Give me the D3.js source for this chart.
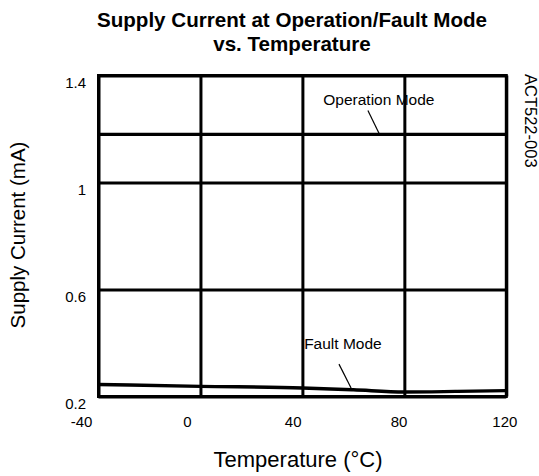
<!DOCTYPE html>
<html>
<head>
<meta charset="utf-8">
<script src="https://cdn.jsdelivr.net/npm/d3@7"></script>
<style>
  html, body { margin: 0; padding: 0; background: #fff; }
  svg { display: block; font-family: "Liberation Sans", Arial, sans-serif; }
</style>
</head>
<body>
<svg id="chart" width="539" height="476"></svg>
<script>
// ---- data ----
const xTicks = [-40, 0, 40, 80, 120];
const yTicks = [0.2, 0.6, 1, 1.4];
const operationTemps = [-40, 0, 40, 80, 120];
const operationValues = [1.18, 1.18, 1.18, 1.18, 1.18];
const faultTemps = [-40, 0, 40, 60, 80, 100, 120];
const faultValues = [0.245, 0.238, 0.232, 0.225, 0.217, 0.219, 0.222];
const titleLines = ["Supply Current at Operation/Fault Mode", "vs. Temperature"];
const xTitle = "Temperature (°C)";
const yTitle = "Supply Current  (mA)";
const docId = "ACT522-003";
// annotation: label anchor and leader line, in data units (temp, mA)
const annotations = [
  { text: "Operation Mode", label: [70, 1.288], from: [65.7, 1.269], to: [70.1, 1.183] },
  { text: "Fault Mode", label: [55.9, 0.377], from: [54.35, 0.321], to: [59.1, 0.232] }
];

// ---- layout ----
const svg = d3.select("#chart");
const margin = { left: 98.5, top: 75.5, right: 539 - 506.3, bottom: 476 - 396.5 };
const W = 539 - margin.left - margin.right;
const H = 476 - margin.top - margin.bottom;

const x = d3.scaleLinear().domain([-40, 120]).range([0, W]);
const y = d3.scaleLinear().domain([0.2, 1.4]).range([H, 0]);
// tick labels in the original are spread slightly wider than the grid
const xLabel = d3.scaleLinear().domain([-40, 120]).range([-17.5, W - 2]);

const g = svg.append("g").attr("transform", `translate(${margin.left},${margin.top})`);

// title
svg.append("text")
  .attr("x", 292).attr("y", 27)
  .attr("text-anchor", "middle")
  .style("font-size", "20.6px").style("font-weight", "bold")
  .selectAll("tspan").data(titleLines).join("tspan")
  .attr("x", 292).attr("dy", (d, i) => i === 0 ? 0 : 24)
  .text(d => d);

// vertical grid
const xGrid = g.append("g")
  .attr("transform", `translate(0,${H})`)
  .call(d3.axisBottom(x).tickValues(xTicks).tickSize(-H).tickFormat(""));
xGrid.select(".domain").remove();
xGrid.selectAll(".tick line").attr("stroke", "#000").attr("stroke-width", 3);

// x tick labels
const xAxis = g.append("g")
  .attr("transform", `translate(0,${H})`)
  .call(d3.axisBottom(xLabel).tickValues(xTicks).tickSize(0).tickPadding(19.5).tickFormat(d => String(d)));
xAxis.select(".domain").remove();
xAxis.selectAll(".tick line").remove();
xAxis.selectAll(".tick text").attr("fill", "#000").style("font-size", "15px");

// y axis + horizontal grid
const yAxis = g.append("g")
  .call(d3.axisLeft(y).tickValues(yTicks).tickSize(-W).tickPadding(12.5).tickFormat(d => String(d)));
yAxis.select(".domain").remove();
yAxis.selectAll(".tick line").attr("stroke", "#000").attr("stroke-width", 3);
yAxis.selectAll(".tick text").attr("fill", "#000").style("font-size", "15px")
  .attr("dy", "11.5px");
svg.selectAll(".tick").attr("font-family", null);
xAxis.attr("font-family", null).attr("font-size", null);
yAxis.attr("font-family", null).attr("font-size", null);

// frame
g.append("rect")
  .attr("x", 0).attr("y", 0).attr("width", W).attr("height", H)
  .attr("fill", "none").attr("stroke", "#000").attr("stroke-width", 3);

// series
const line = d3.line().x(d => x(d[0])).y(d => y(d[1])).curve(d3.curveMonotoneX);
g.append("path")
  .datum(operationTemps.map((t, i) => [t, operationValues[i]]))
  .attr("d", line).attr("fill", "none").attr("stroke", "#000").attr("stroke-width", 3.4);
g.append("path")
  .datum(faultTemps.map((t, i) => [t, faultValues[i]]))
  .attr("d", line).attr("fill", "none").attr("stroke", "#000").attr("stroke-width", 3.4);

// annotations
annotations.forEach(a => {
  g.append("text")
    .attr("x", x(a.label[0])).attr("y", y(a.label[1]))
    .attr("text-anchor", "middle").style("font-size", "15.5px").attr("fill", "#000")
    .text(a.text);
  g.append("line")
    .attr("x1", x(a.from[0])).attr("y1", y(a.from[1]))
    .attr("x2", x(a.to[0])).attr("y2", y(a.to[1]))
    .attr("stroke", "#000").attr("stroke-width", 1.2);
});

// axis titles
svg.append("text")
  .attr("transform", `translate(298,467)`)
  .attr("text-anchor", "middle").style("font-size", "22px").text(xTitle);
svg.append("text")
  .attr("transform", `translate(25,235) rotate(-90)`)
  .attr("text-anchor", "middle").style("font-size", "20.5px").text(yTitle);

// document id (rotated, reading downward)
svg.append("text")
  .attr("transform", `translate(525,74) rotate(90)`)
  .attr("text-anchor", "start").style("font-size", "16.5px").text(docId);
</script>
</body>
</html>
